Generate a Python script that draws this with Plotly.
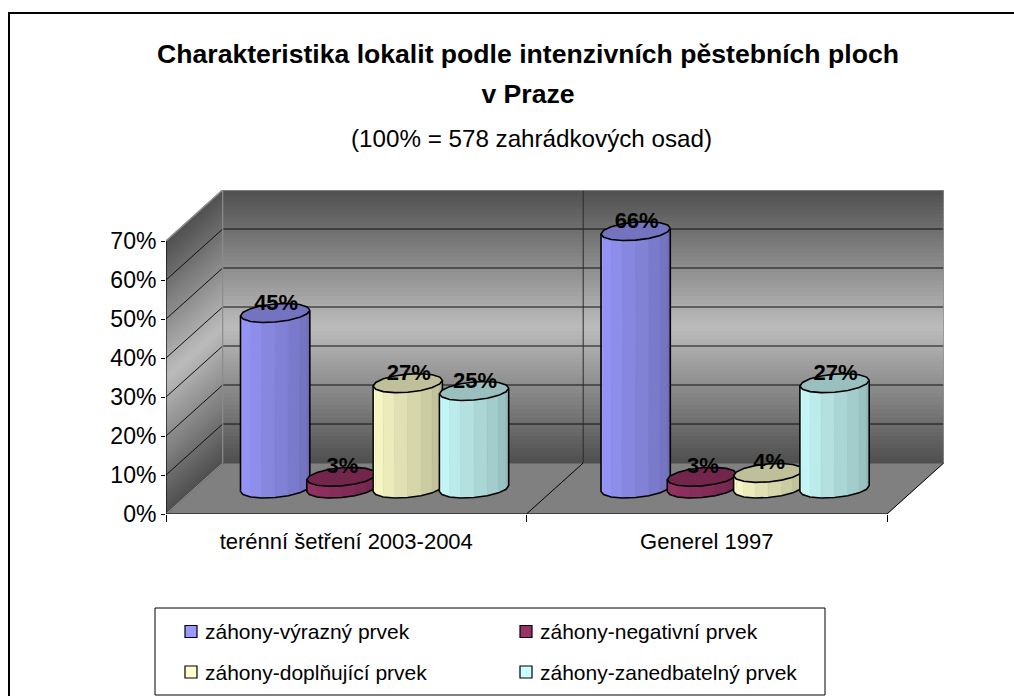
import math
import plotly.graph_objects as go

# ---------- data ----------
categories = ["terénní šetření 2003-2004", "Generel 1997"]
series_names = ["záhony-výrazný prvek", "záhony-negativní prvek",
                "záhony-doplňující prvek", "záhony-zanedbatelný prvek"]
vyrazny = [45, 66]
negativni = [3, 3]
doplnujici = [27, 4]
zanedbatelny = [25, 27]
y_ticks = [0, 10, 20, 30, 40, 50, 60, 70]
series_values = [vyrazny, negativni, doplnujici, zanedbatelny]
series_colors = [(153, 153, 255), (153, 51, 102), (255, 255, 204), (204, 255, 255)]

W, H = 1014, 696
FONT = "Liberation Sans"
# plot frame in page pixels
X0_PX, X_UNIT_PX = 166.0, 360.5
Y0_PX, Y_UNIT_PX = 514.0, 3.9
DX = 56.7 / X_UNIT_PX       # oblique shift of the depth axis
DY = 51.0 / Y_UNIT_PX
X_MAX = 2 + DX
Y_MAX = 70 + DY


def proj(x, depth, v):
    return x + depth * DX, v + depth * DY


def poly(points):
    xs, ys = zip(*points)
    return list(xs) + [xs[0]], list(ys) + [ys[0]]


def rgb(c, f=1.0):
    return "rgb(%d,%d,%d)" % tuple(round(k * f) for k in c)


fig = go.Figure()


def add_fill(points, color, line=None, width=0.6):
    xs, ys = poly(points)
    fig.add_trace(go.Scatter(x=xs, y=ys, mode="lines", fill="toself", fillcolor=color,
                             line=dict(color=line or color, width=width),
                             hoverinfo="skip", showlegend=False))


def add_line(points, color="black", width=1.0, name=None):
    xs, ys = zip(*points)
    fig.add_trace(go.Scatter(x=list(xs), y=list(ys), mode="lines", name=name,
                             line=dict(color=color, width=width),
                             hoverinfo="skip", showlegend=False))


# ---------- floor ----------
add_fill([proj(0, 0, 0), proj(2, 0, 0), proj(2, 1, 0), proj(0, 1, 0)], "#808080")

# ---------- gradient walls ----------
STOPS = [(0, 80), (0.5, 188), (1, 78)]
N_BANDS = 70


def shade(f):
    for (a, ca), (b, cb) in zip(STOPS, STOPS[1:]):
        if f <= b:
            return ca + (cb - ca) * (f - a) / (b - a)
    return STOPS[-1][1]


for i in range(N_BANDS):
    v0 = 70 * i / N_BANDS
    v1 = 70 * (i + 1) / N_BANDS
    g = round(shade(1 - (i + 0.5) / N_BANDS))
    col = f"rgb({g},{g},{g})"
    add_fill([proj(0, 1, v0), proj(2, 1, v0), proj(2, 1, v1), proj(0, 1, v1)], col, width=1.2)
    add_fill([proj(0, 0, v0), proj(0, 1, v0), proj(0, 1, v1), proj(0, 0, v1)], col, width=1.2)

# ---------- grid lines and frame ----------
for v in y_ticks[1:-1]:
    add_line([proj(0, 0, v), proj(0, 1, v), proj(2, 1, v)], "#111111", 1.0)
add_line([proj(1, 1, 0), proj(1, 1, 70)], "#2a2a2a", 1.0)
add_line([proj(0, 0, 70), proj(0, 1, 70), proj(2, 1, 70), proj(2, 1, 0)], "#8c8c8c", 1.5)
add_line([proj(0, 1, 70), proj(0, 1, 0)], "#8c8c8c", 1.2)
add_line([proj(0, 0, 0), proj(0, 1, 0)], "#999999", 1.0)
add_line([proj(1, 0, 0), proj(1, 1, 0)], "black", 1.0)
add_line([proj(2, 0, 0), proj(2, 1, 0)], "black", 1.0)
add_line([proj(0, 0, 0), proj(2, 0, 0)], "black", 1.2)
add_line([proj(0, 0, 0), proj(0, 0, 70)], "black", 1.2)

# ---------- cylinders ----------
PITCH = 66.3 / X_UNIT_PX
RX = 33.0 / X_UNIT_PX
RD = 0.186
FACETS = 8
T0 = math.atan2(RD * DX, RX)
N_S = len(series_values)


def rim(cx, v, t):
    return proj(cx + RX * math.cos(t), 0.5 + RD * math.sin(t), v)


labels_x, labels_y, labels_text = [], [], []
for c in range(len(categories)):
    for s in range(N_S):
        val = series_values[s][c]
        col = series_colors[s]
        cx = c + 0.5 + (s - (N_S - 1) / 2) * PITCH
        ts = [T0 + math.pi + k * math.pi / FACETS for k in range(FACETS + 1)]
        for k in range(FACETS):
            f = 1.0 - 0.28 * k / (FACETS - 1)
            add_fill([rim(cx, 0, ts[k]), rim(cx, 0, ts[k + 1]),
                      rim(cx, val, ts[k + 1]), rim(cx, val, ts[k])], rgb(col, f))
        all_t = [T0 + k * math.pi / FACETS for k in range(2 * FACETS)]
        add_fill([rim(cx, val, t) for t in all_t], rgb(col, 0.75), "black", 1.6)
        outline = [rim(cx, val, ts[0])] + [rim(cx, 0, t) for t in ts] + [rim(cx, val, ts[-1])]
        add_line(outline, "black", 1.6, name=series_names[s])
        lx, ly = proj(cx + 1 / X_UNIT_PX, 0.5, val + 2.3)
        labels_x.append(lx)
        labels_y.append(ly)
        labels_text.append(f"{val}%")

fig.add_trace(go.Scatter(x=labels_x, y=labels_y, text=labels_text, mode="text",
                         textposition="middle center", cliponaxis=False,
                         textfont=dict(family=FONT, size=22, color="black", weight="bold"),
                         hoverinfo="skip", showlegend=False))


# ---------- page furniture ----------
def px(x):
    return x / W


def py(y):
    return 1 - y / H


shapes = [
    dict(type="line", xref="paper", yref="paper", x0=px(9), x1=px(9), y0=py(12), y1=py(696),
         line=dict(color="black", width=2)),
    dict(type="line", xref="paper", yref="paper", x0=px(9), x1=px(1014), y0=py(13), y1=py(13),
         line=dict(color="black", width=2)),
    dict(type="rect", xref="paper", yref="paper", x0=px(155), x1=px(825), y0=py(608), y1=py(695),
         line=dict(color="black", width=1), fillcolor="white"),
]
annotations = [
    dict(text="(100% = 578 zahrádkových osad)", xref="paper", yref="paper", x=px(531), y=py(138),
         xanchor="center", yanchor="middle", showarrow=False,
         font=dict(family=FONT, size=24.2, color="black")),
]
LEG_X = [185, 520]
LEG_Y = [631.5, 672]
for i, name in enumerate(series_names):
    lx, ly = LEG_X[i % 2], LEG_Y[i // 2]
    shapes.append(dict(type="rect", xref="paper", yref="paper",
                       x0=px(lx), x1=px(lx + 12), y0=py(ly - 6), y1=py(ly + 6),
                       line=dict(color="black", width=1.2), fillcolor=rgb(series_colors[i])))
    annotations.append(dict(text=name, xref="paper", yref="paper", x=px(lx + 18), y=py(ly),
                            xanchor="left", yanchor="middle", showarrow=False,
                            font=dict(family=FONT, size=21, color="black")))

title = ("<b><span style='font-size:26.6px'>Charakteristika lokalit podle intenzivních pěstebních ploch</span>"
         "<br><span style='font-size:26.6px'>v Praze</span></b>")

fig.update_layout(
    width=W, height=H, autosize=False,
    margin=dict(l=0, r=0, t=0, b=0, autoexpand=False),
    paper_bgcolor="white", plot_bgcolor="rgba(0,0,0,0)",
    showlegend=False, hovermode=False,
    title=dict(text=title, x=px(528), xanchor="center", y=py(63), yanchor="top", yref="paper",
               font=dict(family=FONT, size=31, color="black")),
    shapes=shapes, annotations=annotations,
    xaxis=dict(domain=[px(X0_PX), px(X0_PX + X_MAX * X_UNIT_PX)], range=[0, X_MAX],
               tickmode="array", tickvals=[0.5, 1.5], ticktext=categories, ticks="",
               showgrid=False, zeroline=False, showline=False,
               ticklabelstandoff=12,
               tickfont=dict(family=FONT, size=22, color="black"),
               minor=dict(tickmode="array", tickvals=[0, 1, 2], ticks="outside", ticklen=7,
                          tickcolor="black", tickwidth=1, showgrid=False)),
    yaxis=dict(domain=[1 - Y0_PX / H, 1 - (Y0_PX - Y_MAX * Y_UNIT_PX) / H],
               range=[0, Y_MAX], tickmode="array", tickvals=y_ticks,
               ticktext=[f"{v}%" for v in y_ticks], ticks="outside", ticklen=4,
               tickcolor="black", showgrid=False, zeroline=False, showline=False,
               tickfont=dict(family=FONT, size=23, color="black")),
)

fig.write_html("out.html", config={"displayModeBar": False},
               post_script="document.body.style.margin='0';document.body.style.overflow='hidden';")
